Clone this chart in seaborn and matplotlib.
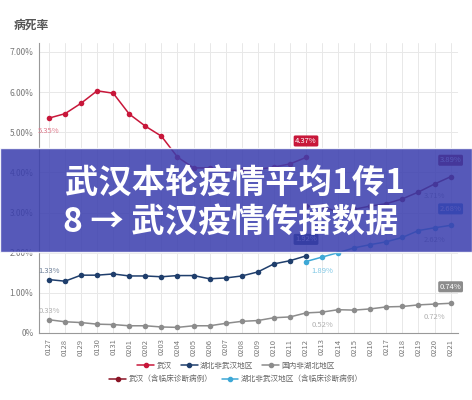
import pandas as pd
import matplotlib
matplotlib.use('Agg')
import matplotlib.pyplot as plt
from matplotlib.lines import Line2D
from matplotlib.patches import Rectangle
import seaborn as sns

dates = ['0127', '0128', '0129', '0130', '0131', '0201', '0202', '0203', '0204',
         '0205', '0206', '0207', '0208', '0209', '0210', '0211', '0212', '0213',
         '0214', '0215', '0216', '0217', '0218', '0219', '0220', '0221']

# 病死率 (%)
wuhan = [5.35, 5.46, 5.72, 6.03, 5.97, 5.45, 5.15, 4.90, 4.38, 4.11, 4.11, 4.05,
         4.05, 4.07, 4.13, 4.21, 4.37]
hubei_other = [1.33, 1.29, 1.44, 1.44, 1.47, 1.42, 1.42, 1.40, 1.43, 1.43, 1.35,
               1.37, 1.42, 1.52, 1.72, 1.80, 1.92]
china_other = [0.33, 0.28, 0.26, 0.22, 0.21, 0.18, 0.18, 0.15, 0.14, 0.18, 0.18,
               0.24, 0.29, 0.31, 0.38, 0.40, 0.50, 0.52, 0.58, 0.57, 0.60, 0.65,
               0.66, 0.70, 0.72, 0.74]
wuhan_clin = [3.16, 3.15, 3.01, 3.08, 3.16, 3.22, 3.34, 3.51, 3.71, 3.89]
hubei_other_clin = [1.78, 1.89, 2.00, 2.12, 2.20, 2.27, 2.38, 2.55, 2.62, 2.68]

series_names = ['武汉', '湖北非武汉地区', '国内非湖北地区',
                '武汉（含临床诊断病例）', '湖北非武汉地区（含临床诊断病例）']
colors = ['#c8173a', '#1f3e6c', '#8c8c8c', '#8a1426', '#3ea8d6']

pos = {d: i for i, d in enumerate(dates)}


def make_df(vals, start):
    i0 = pos[start]
    return pd.DataFrame({'x': list(range(i0, i0 + len(vals))), 'y': vals})


frames = [make_df(wuhan, '0127'), make_df(hubei_other, '0127'),
          make_df(china_other, '0127'), make_df(wuhan_clin, '0212'),
          make_df(hubei_other_clin, '0212')]

sns.set_style('white')
plt.rcParams['font.family'] = ['Noto Sans CJK SC', 'DejaVu Sans']

fig = plt.figure(figsize=(4.72, 4.0), dpi=100)
ax = fig.add_axes([0.0826, 0.1675, 0.8874, 0.725])

for df, c in zip(frames, colors):
    sns.lineplot(data=df, x='x', y='y', ax=ax, color=c, linewidth=1.1,
                 marker='o', markersize=4, markeredgewidth=0, zorder=3)

ax.set_xlim(-0.62, 25.45)
ax.set_ylim(0, 7.22)
ax.set_xticks(range(len(dates)))
ax.set_xticklabels(dates, rotation=90, fontsize=5.5, color='#777777')
ax.set_yticks([0, 1, 2, 3, 4, 5, 6, 7])
ax.set_yticklabels(['0%'] + ['%.2f%%' % v for v in range(1, 8)],
                   fontsize=6, color='#777777')
ax.tick_params(length=0, pad=4)
ax.set_xlabel('')
ax.set_ylabel('')
ax.grid(True, color='#e8e8e8', linewidth=0.7)
for s in ['top', 'right']:
    ax.spines[s].set_visible(False)
for s in ['left', 'bottom']:
    ax.spines[s].set_color('#999999')
    ax.spines[s].set_linewidth(0.8)

fig.text(0.03, 0.928, '病死率', fontsize=8.5, color='#555555', fontweight='bold')

# boxed labels
boxed = [(wuhan, '0127', '0212', colors[0]),
         (hubei_other, '0127', '0212', colors[1]),
         (china_other, '0127', '0221', '#8c8c8c'),
         (wuhan_clin, '0212', '0221', colors[3]),
         (hubei_other_clin, '0212', '0221', '#2f7fd0')]
for vals, start, d, c in boxed:
    v = vals[pos[d] - pos[start]]
    ax.annotate('%.2f%%' % v, (pos[d], v), xytext=(0, 9), textcoords='offset points',
                ha='center', va='bottom', fontsize=5.5, color='white', zorder=5,
                bbox=dict(boxstyle='round,pad=0.2', fc=c, ec='none'))

# plain value labels
plain = [(wuhan, '0127', '0127', '#e07a8c', -9),
         (hubei_other, '0127', '0127', '#6d7f98', 6),
         (china_other, '0127', '0127', '#b0b0b0', 6),
         (hubei_other_clin, '0212', '0213', '#7cc6e4', -10),
         (china_other, '0127', '0213', '#b0b0b0', -9),
         (china_other, '0127', '0220', '#b0b0b0', -9),
         (wuhan_clin, '0212', '0220', '#9a9a9a', -9),
         (hubei_other_clin, '0212', '0220', '#9a9a9a', -9)]
for vals, start, d, c, dy in plain:
    v = vals[pos[d] - pos[start]]
    ax.annotate('%.2f%%' % v, (pos[d], v), xytext=(0, dy), textcoords='offset points',
                ha='center', va='center', fontsize=5.5, color=c, zorder=4)

# legend rows
handles = [Line2D([0], [0], color=c, marker='o', markersize=3, linewidth=1.1)
           for c in colors]
leg1 = fig.legend(handles[:3], series_names[:3], loc='center', ncol=3,
                  bbox_to_anchor=(0.5, 0.085), frameon=False, fontsize=5.5,
                  handlelength=2.2, columnspacing=1.2, handletextpad=0.3,
                  labelcolor='#666666')
leg2 = fig.legend(handles[3:], series_names[3:], loc='center', ncol=2,
                  bbox_to_anchor=(0.5, 0.052), frameon=False, fontsize=5.5,
                  handlelength=2.2, columnspacing=1.2, handletextpad=0.3,
                  labelcolor='#666666')

# banner overlay
fig.patches.append(Rectangle((0, 0.37), 1, 0.26, transform=fig.transFigure,
                             facecolor='#3a3eae', alpha=0.86, zorder=10))
fig.text(0.138, 0.5425, '武汉本轮疫情平均1传1', fontsize=24, color='white',
         fontweight='heavy', va='center', ha='left', zorder=11,
         family=['Noto Sans CJK SC', 'DejaVu Sans'])
fig.text(0.134, 0.445, '8 → 武汉疫情传播数据', fontsize=24, color='white',
         fontweight='heavy', va='center', ha='left', zorder=11,
         family=['Noto Sans CJK SC', 'DejaVu Sans'])

fig.savefig('out.png', dpi=100)
